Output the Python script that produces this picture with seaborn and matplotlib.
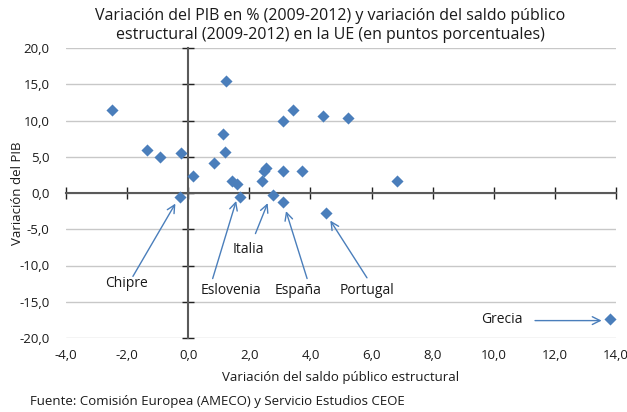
import matplotlib
matplotlib.use("Agg")
import matplotlib.pyplot as plt
import seaborn as sns
import numpy as np
import pandas as pd

# Data (variación saldo público estructural, variación PIB)
saldo = [-2.51, 1.25, -1.36, -0.91, -0.24, 1.14, 1.19, 0.84, 0.14, 1.43, 1.60, 1.68,
         -0.26, 3.09, 3.43, 4.42, 5.23, 2.47, 2.55, 3.11, 3.73, 2.42, 2.77, 3.09,
         6.83, 4.51, 13.8]
pib = [11.4, 15.5, 6.0, 4.9, 5.5, 8.1, 5.7, 4.1, 2.3, 1.7, 1.2, -0.5,
       -0.6, 10.0, 11.4, 10.6, 10.3, 3.1, 3.4, 3.1, 3.1, 1.7, -0.3, -1.3,
       1.7, -2.8, -17.4]

labels = ["Chipre", "Eslovenia", "Italia", "España", "Portugal", "Grecia"]
label_xy = [(-2.02, -12.5), (1.41, -13.4), (1.96, -7.8), (3.59, -13.4), (5.86, -13.4), (10.26, -17.5)]
arrow_start = [(-1.81, -11.5), (0.80, -11.8), (2.2, -5.6), (3.89, -11.8), (5.85, -11.7), (11.35, -17.6)]
arrow_end = [(-0.42, -1.46), (1.57, -1.1), (2.6, -1.4), (3.2, -2.5), (4.65, -3.8), (13.53, -17.6)]

xticks = np.arange(-4, 15, 2)
yticks = np.arange(-20, 21, 5)

sns.set_style("white")
plt.rcParams['font.family'] = ['Open Sans', 'DejaVu Sans']

blue = "#4A7EBB"

fig = plt.figure(figsize=(6.27, 4.12), dpi=100)
ax = fig.add_axes([66/627, 1-338/412, 550/627, 290/412])

df = pd.DataFrame({"saldo": saldo, "pib": pib})
sns.scatterplot(data=df, x="saldo", y="pib", marker="D", s=38, color=blue,
                edgecolor=blue, linewidth=0, ax=ax, zorder=5, clip_on=False)

ax.set_xlim(-4, 14)
ax.set_ylim(-20, 20)
ax.set_xticks(xticks)
ax.set_yticks(yticks)
ax.yaxis.grid(True, color="#c8c8c8", linewidth=1)
ax.xaxis.grid(False)
ax.set_axisbelow(True)

for s in ["top", "right"]:
    ax.spines[s].set_visible(False)
ax.spines["left"].set_position(("data", 0))
ax.spines["bottom"].set_position(("data", 0))
for s in ["left", "bottom"]:
    ax.spines[s].set_color("#5a5a5a")
    ax.spines[s].set_linewidth(1.5)
ax.tick_params(axis="both", direction="inout", length=8, width=1, color="#222222",
               bottom=True, left=True, labelleft=False, labelbottom=False)
ax.set_xlabel("")
ax.set_ylabel("")

fmt = lambda v: f"{v:.1f}".replace(".", ",")
secx = ax.secondary_xaxis("bottom")
secx.set_xticks(xticks)
secx.set_xticklabels([fmt(v) for v in xticks], fontsize=9.5, color="#1a1a1a")
secx.tick_params(length=0, pad=8, bottom=True)
secx.spines["bottom"].set_visible(False)
secy = ax.secondary_yaxis("left")
secy.set_yticks(yticks)
secy.set_yticklabels([fmt(v) for v in yticks], fontsize=9.5, color="#1a1a1a")
secy.tick_params(length=0, pad=12, left=True)
secy.spines["left"].set_visible(False)

for lab, (tx, ty), (sx, sy), (ex, ey) in zip(labels, label_xy, arrow_start, arrow_end):
    ax.text(tx, ty, lab, fontsize=10, ha="center", va="center", color="#1a1a1a")
    ax.annotate("", xy=(ex, ey), xytext=(sx, sy),
                arrowprops=dict(arrowstyle="->", color=blue, lw=1.0,
                                shrinkA=0, shrinkB=0, mutation_scale=14))

fig.text(341/627, 1-378/412, "Variación del saldo público estructural", ha="center",
         va="center", fontsize=9.5, color="#1a1a1a")
fig.text(18/627, 1-193/412, "Variación del PIB", ha="center", va="center",
         rotation=90, fontsize=9.5, color="#1a1a1a")
fig.text(330/627, 1-16/412, "Variación del PIB en % (2009-2012) y variación del saldo público",
         ha="center", va="center", fontsize=11.5, color="#1a1a1a")
fig.text(330/627, 1-35/412, "estructural (2009-2012) en la UE (en puntos porcentuales)",
         ha="center", va="center", fontsize=11.5, color="#1a1a1a")
fig.text(30/627, 1-401/412, "Fuente: Comisión Europea (AMECO) y Servicio Estudios CEOE",
         ha="left", va="center", fontsize=9.5, color="#1a1a1a")

fig.savefig("out.png", dpi=100)
